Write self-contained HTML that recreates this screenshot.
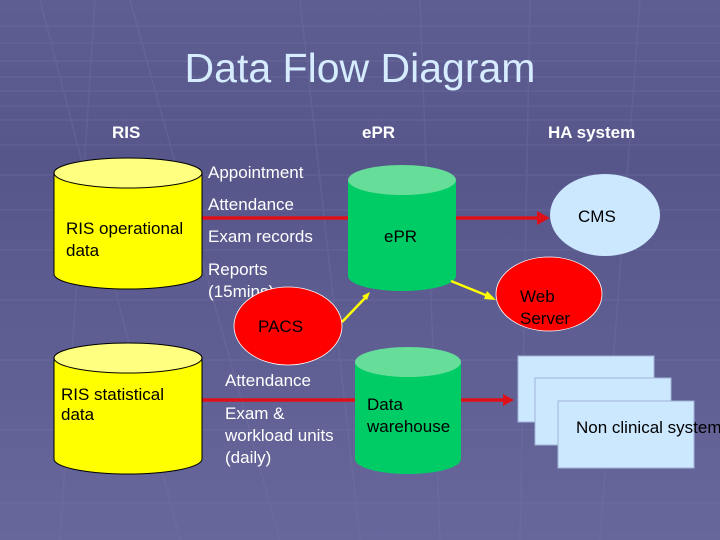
<!DOCTYPE html>
<html><head><meta charset="utf-8"><style>
html,body{margin:0;padding:0;width:720px;height:540px;overflow:hidden}
svg{display:block}
text{font-family:"Liberation Sans",sans-serif}
</style></head><body>
<svg width="720" height="540" viewBox="0 0 720 540" xmlns="http://www.w3.org/2000/svg">
<defs>
<linearGradient id="bg" x1="0" y1="0" x2="0" y2="1">
<stop offset="0" stop-color="#5e5e92"/><stop offset="0.3" stop-color="#56568a"/><stop offset="1" stop-color="#67679c"/>
</linearGradient>
</defs>
<rect width="720" height="540" fill="url(#bg)"/>
<g stroke="#7676a8" stroke-width="1.5" opacity="0.3" fill="none">
<line x1="0" y1="26" x2="720" y2="26"/><line x1="0" y1="43" x2="720" y2="43"/>
<line x1="0" y1="61" x2="720" y2="61"/><line x1="0" y1="77" x2="720" y2="77"/>
<line x1="0" y1="91" x2="720" y2="91"/><line x1="0" y1="106" x2="720" y2="106"/>
<line x1="0" y1="120" x2="720" y2="120"/><line x1="0" y1="145" x2="720" y2="145"/>
<line x1="0" y1="175" x2="720" y2="175"/><line x1="0" y1="210" x2="720" y2="210"/>
<line x1="0" y1="250" x2="720" y2="250"/><line x1="0" y1="300" x2="720" y2="300"/>
<line x1="0" y1="360" x2="720" y2="360"/><line x1="0" y1="430" x2="720" y2="430"/>
<line x1="0" y1="503" x2="720" y2="503"/>
<line x1="40" y1="0" x2="180" y2="540"/><line x1="95" y1="0" x2="60" y2="540"/>
<line x1="130" y1="0" x2="280" y2="540"/><line x1="300" y1="0" x2="360" y2="540"/>
<line x1="420" y1="0" x2="440" y2="540"/><line x1="530" y1="0" x2="520" y2="540"/>
<line x1="640" y1="0" x2="600" y2="540"/>
</g>
<text x="360" y="82" font-size="41" fill="#d6ecff" text-anchor="middle">Data Flow Diagram</text>
<g font-size="17" font-weight="bold" fill="#ffffff">
<text x="112" y="138">RIS</text><text x="362" y="138">ePR</text><text x="548" y="138">HA system</text>
</g>
<g stroke="#e0101a" stroke-width="3.5">
<line x1="202" y1="218" x2="348" y2="218"/>
<line x1="456" y1="218" x2="540" y2="218"/>
<line x1="202" y1="400" x2="355" y2="400"/>
<line x1="461" y1="400" x2="505" y2="400"/>
</g>
<polygon points="537,211 550,218 537,225" fill="#e0101a"/>
<polygon points="503,394 514,400 503,406" fill="#e0101a"/>
<g stroke="#000" stroke-width="1">
<path d="M54,173 L54,274 A74,15 0 0 0 202,274 L202,173 Z" fill="#ffff00"/>
<ellipse cx="128" cy="173" rx="74" ry="15" fill="#ffff80"/>
<path d="M54,358 L54,459 A74,15 0 0 0 202,459 L202,358 Z" fill="#ffff00"/>
<ellipse cx="128" cy="358" rx="74" ry="15" fill="#ffff80"/>
</g>
<path d="M348,180 L348,276 A54,15 0 0 0 456,276 L456,180 Z" fill="#00cc66"/>
<ellipse cx="402" cy="180" rx="54" ry="15" fill="#66dd99"/>
<path d="M355,362 L355,459 A53,15 0 0 0 461,459 L461,362 Z" fill="#00cc66"/>
<ellipse cx="408" cy="362" rx="53" ry="15" fill="#66dd99"/>
<ellipse cx="605" cy="215" rx="55" ry="41" fill="#cce8ff"/>
<ellipse cx="549" cy="294" rx="53" ry="37" fill="#ff0000" stroke="#fff" stroke-width="0.8"/>
<g stroke="#ffff00" stroke-width="2.5">
<line x1="342" y1="322" x2="366" y2="297"/>
<line x1="451" y1="281" x2="488" y2="296"/>
</g>
<polygon points="370,292 362,296 367,300" fill="#ffff00"/>
<polygon points="496,300 487,291 484,299" fill="#ffff00"/>
<g fill="#cce8ff" stroke="#9fb4d8" stroke-width="1">
<rect x="518" y="356" width="136" height="66"/>
<rect x="535" y="378" width="136" height="67"/>
<rect x="558" y="401" width="136" height="67"/>
</g>
<g font-size="17" fill="#ffffff">
<text x="208" y="178">Appointment</text>
<text x="208" y="210">Attendance</text>
<text x="208" y="242">Exam records</text>
<text x="208" y="275">Reports</text><text x="208" y="297">(15mins)</text>
<text x="225" y="386">Attendance</text>
<text x="225" y="419">Exam &amp;</text>
<text x="225" y="441">workload units</text>
<text x="225" y="463">(daily)</text>
</g>
<ellipse cx="288" cy="326" rx="54" ry="39" fill="#ff0000" stroke="#fff" stroke-width="0.8"/>
<g font-size="17" fill="#000">
<text x="66" y="234">RIS operational</text><text x="66" y="256">data</text>
<text x="384" y="242">ePR</text>
<text x="578" y="222">CMS</text>
<text x="520" y="302">Web</text><text x="520" y="324">Server</text>
<text x="258" y="332">PACS</text>
<text x="61" y="400">RIS statistical</text><text x="61" y="420">data</text>
<text x="367" y="410">Data</text><text x="367" y="432">warehouse</text>
<text x="576" y="433">Non clinical system</text>
</g>
</svg>
</body></html>
